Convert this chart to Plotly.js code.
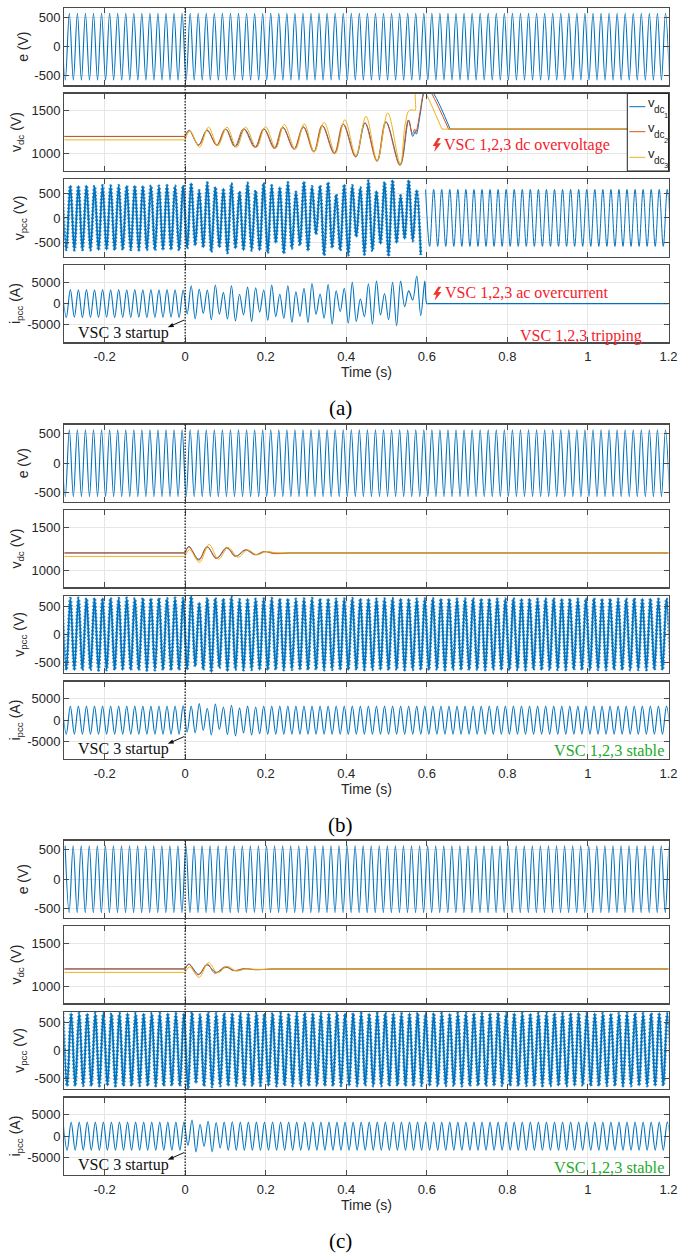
<!DOCTYPE html>
<html><head><meta charset="utf-8">
<script src="https://cdn.plot.ly/plotly-3.0.1.min.js"></script>
<style>html,body{margin:0;padding:0;background:#fff}#c{width:678px;height:1256px}</style>
</head><body><div id="c"></div>
<script>
// ---- values: half-cycle extremes (one value every 10 ms) ----
const eExtremes = [
570,-570,570,-570,570,-570,570,-570,570,-570,570,-570,570,-570,570,-570,570,-570,570,-570,
570,-570,570,-570,570,-570,570,-570,570,-570,570,-570,570,-570,570,-570,570,-570,570,-570,
570,-570,570,-570,570,-570,570,-570,570,-570,570,-570,570,-570,570,-570,570,-570,570,-570,
570,-570,570,-570,570,-570,570,-570,570,-570,570,-570,570,-570,570,-570,570,-570,570,-570,
570,-570,570,-570,570,-570,570,-570,570,-570,570,-570,570,-570,570,-570,570,-570,570,-570,
570,-570,570,-570,570,-570,570,-570,570,-570,570,-570,570,-570,570,-570,570,-570,570,-570,
570,-570,570,-570,570,-570,570,-570,570,-570,570,-570,570,-570,570,-570,570,-570,570,-570,
570,-570,570,-570,570,-570,570,-570,570,-570,570,-570];

const vpccAUnstable = [
645,-640,650,-645,645,-640,650,-645,640,-645,650,-640,645,-645,650,-640,
645,-640,650,-645,645,-640,650,-645,640,-645,650,-640,645,-645,650,
-610,700,-550,550,-590,707,-680,620,-590,590,-700,690,-610,530,-650,700,-650,550,-650,700,
-700,650,-500,620,-715,710,-610,520,-550,730,-660,630,-330,650,-750,715,-600,470,-650,670,
-750,650,-380,610,-730,750,-660,540,-520,720,-770,760,-500,450,-420,760,-460,560,-740];
const vpccATripped = [
570,-570,570,-570,570,-570,570,-570,570,-570,570,-570,570,-570,570,-570,570,-570,570,-570,
570,-570,570,-570,570,-570,570,-570,570,-570,570,-570,570,-570,570,-570,570,-570,570,-570,
570,-570,570,-570,570,-570,570,-570,570,-570,570,-570,570,-570,570,-570,570,-570,570,-570,570,-570];
const ipccAUnstable = [
3250,-3250,3300,-3200,3250,-3300,3300,-3250,3250,-3250,3300,-3200,3250,-3300,3300,-3250,
3250,-3250,3300,-3200,3250,-3300,3300,-3250,3250,-3250,3300,-3200,3250,-3300,3200,
-2400,4200,-3600,3400,-2300,3200,-3800,4400,-2500,2650,-3600,4200,-4050,2200,-2650,3900,-4200,3750,-2000,3200,
-3900,4350,-3050,2200,-3450,4200,-4400,2800,-3000,3600,-4400,4750,-2500,2260,-3430,4500,-4800,3000,-1900,3600,
-4600,5000,-4200,1100,-3050,4700,-4800,5300,-2650,2400,-3800,5000,-5200,5300,-700,3000,860,6500,-2800,5300];
const ipccATrippedT = [0.6,0.605,1.2];
const ipccATripped = [0,0,0];

const vpccB = [
640,-625,635,-630,640,-625,635,-625,640,-630,635,-625,640,-625,635,-630,
640,-625,635,-625,640,-630,635,-625,640,-625,635,-630,640,-625,635,
-620,690,-560,560,-620,640,-665,640,-590,630,-650,665,-620,615,
-625,630,-620,625,-625,630,-625,635,-620,630,-625,630,-620,625,-625,630,-625,635,-620,630,
-625,630,-620,625,-625,630,-625,635,-620,630,-625,630,-620,625,-625,630,-625,635,-620,630,
-625,630,-620,625,-625,630,-625,635,-620,630,-625,630,-620,625,-625,630,-625,635,-620,630,
-625,630,-620,625,-625,630,-625,635,-620,630,-625,630,-620,625,-625,630,-625,635,-620,630,
-625,630,-620,625,-625,630,-625,635,-620,630,-625,630,-620,625,-625,630,-625,635,-620,630,
-625,630,-620,625,-625,630,-625];
const ipccB = [
3300,-3300,3300,-3300,3300,-3300,3300,-3300,3300,-3300,3300,-3300,3300,-3300,3300,-3300,
3300,-3300,3300,-3300,3300,-3300,3300,-3300,3300,-3300,3300,-3300,3300,-3300,3350,
-2800,3300,-3000,3900,-2400,2800,-3500,3800,-2200,3100,-3400,3500,-3700,2900,-3000,3300,-3500,3100,-3200,3300,
-3300,3300,-3300,3300,-3300,3300,-3300,3300,-3300,3300,-3300,3300,-3300,3300,-3300,3300,-3300,3300,-3300,3300,
-3300,3300,-3300,3300,-3300,3300,-3300,3300,-3300,3300,-3300,3300,-3300,3300,-3300,3300,-3300,3300,-3300,3300,
-3300,3300,-3300,3300,-3300,3300,-3300,3300,-3300,3300,-3300,3300,-3300,3300,-3300,3300,-3300,3300,-3300,3300,
-3300,3300,-3300,3300,-3300,3300,-3300,3300,-3300,3300,-3300,3300,-3300,3300,-3300,3300,-3300,3300,-3300,3300,
-3300,3300,-3300,3300,-3300,3300,-3300,3300,-3300,3300,-3300,3300,-3300,3300,-3300,3300,-3300,3300,-3300,3300,-3300];

const vpccC = [
655,-625,655,-625,655,-620,650,-625,655,-625,655,-620,650,-625,655,-625,
655,-625,655,-620,650,-625,655,-625,655,-625,655,-620,650,-625,655,
-680,670,-575,630,-630,670,-640,650,-625,655,
-625,655,-620,650,-625,655,-625,660,-620,650,-625,655,-625,655,-620,650,-625,655,-625,660,
-625,655,-620,650,-625,655,-625,660,-620,650,-625,655,-625,655,-620,650,-625,655,-625,660,
-625,655,-620,650,-625,655,-625,660,-620,650,-625,655,-625,655,-620,650,-625,655,-625,660,
-625,655,-620,650,-625,655,-625,660,-620,650,-625,655,-625,655,-620,650,-625,655,-625,660,
-625,655,-620,650,-625,655,-625,660,-620,650,-625,655,-625,655,-620,650,-625,655,-625,660,
-625,655,-620,650,-625,655,-625,660,-620,650,-625];
const ipccC = [
3300,-3300,3300,-3300,3300,-3300,3300,-3300,3300,-3300,3300,-3300,3300,-3300,3300,-3300,
3300,-3300,3300,-3300,3300,-3300,3300,-3300,3300,-3300,3300,-3300,3300,-3300,3300,
-2200,3800,-3700,2800,-2400,3500,-3700,3200,-2800,3300,-3300,3400,-3300,3300,
-3300,3300,-3300,3300,-3300,3300,-3300,3300,-3300,3300,-3300,3300,-3300,3300,-3300,3300,-3300,3300,-3300,3300,
-3300,3300,-3300,3300,-3300,3300,-3300,3300,-3300,3300,-3300,3300,-3300,3300,-3300,3300,-3300,3300,-3300,3300,
-3300,3300,-3300,3300,-3300,3300,-3300,3300,-3300,3300,-3300,3300,-3300,3300,-3300,3300,-3300,3300,-3300,3300,
-3300,3300,-3300,3300,-3300,3300,-3300,3300,-3300,3300,-3300,3300,-3300,3300,-3300,3300,-3300,3300,-3300,3300,
-3300,3300,-3300,3300,-3300,3300,-3300,3300,-3300,3300,-3300,3300,-3300,3300,-3300,3300,-3300,3300,-3300,3300,
-3300,3300,-3300,3300,-3300,3300,-3300];

// dc-link voltages: flat stretches before the startup and after settling
const vdcBeforeT = [-0.3,0];
const vdc1Before = [1200,1200], vdc2Before = [1200,1200], vdc3Before = [1160,1160];
const vdcAfterA1T = [0.658,1.2], vdcAfterA2T = [0.654,1.2], vdcAfterA3T = [0.6376,1.2];
const vdcAfterA = [1285,1285];
const vdcAfterBT = [0.26,1.2], vdcAfterCT = [0.22,1.2], vdcAfter = [1200,1200];

// dc-link voltages: turning points of the transient (time, value)
const vdcA1T = [0,0.01,0.033,0.054,0.079,0.101,0.125,0.147,0.175,0.196,0.223,0.243,0.271,0.294,0.3205,0.3412,0.371,0.393,0.424,0.447,0.477,0.499,0.534,0.555,0.565,0.571,0.574,0.584,0.592,0.6,0.617,0.658];
const vdcA1 = [1200,1273,1100,1270,1100,1285,1082,1285,1074,1285,1062,1305,1055,1309,1023,1324,1004,1340,965,1355,914,1367,867,1387,1200,1258,1226,1473,1700,1790,1700,1285];
const vdcA2T = [0,0.0105,0.034,0.055,0.078,0.1,0.123,0.145,0.173,0.195,0.221,0.242,0.27,0.293,0.319,0.34,0.37,0.392,0.423,0.446,0.476,0.498,0.533,0.554,0.564,0.57,0.573,0.583,0.591,0.598,0.612,0.654];
const vdcA2 = [1200,1270,1098,1275,1098,1290,1080,1290,1072,1290,1060,1310,1052,1314,1020,1330,1002,1345,962,1360,912,1372,865,1392,1235,1285,1255,1480,1700,1790,1700,1285];
const vdcA3T = [0,0.012,0.0356,0.058,0.081,0.104,0.1275,0.15,0.177,0.1995,0.225,0.246,0.2735,0.2957,0.3205,0.345,0.373,0.3965,0.424,0.449,0.477,0.503,0.534,0.546,0.5567,0.57,0.5716,0.5718,0.58,0.598,0.6376];
const vdcA3 = [1160,1265,1074,1309,1090,1309,1070,1309,1070,1316,1062,1340,1050,1348,1023,1363,1004,1394,977,1434,918,1473,879,1336,1504,1504,1504,1750,1850,1700,1285];

const vdcB1T = [0,0.009,0.034,0.0546,0.0787,0.1035,0.1267,0.1516,0.1756,0.1988,0.2236,0.26];
const vdcB1 = [1200,1275,1126,1268,1138,1256,1165,1236,1181,1216,1197,1200];
const vdcB2T = [0,0.0095,0.034,0.0546,0.077,0.1035,0.1245,0.1495,0.1735,0.195,0.22,0.26];
const vdcB2 = [1200,1272,1115,1275,1135,1264,1158,1236,1177,1216,1193,1200];
const vdcB3T = [0,0.011,0.0356,0.0596,0.0828,0.1068,0.131,0.155,0.178,0.201,0.2236,0.26];
const vdcB3 = [1160,1240,1090,1299,1126,1264,1150,1236,1177,1216,1203,1200];

const vdcC1T = [0,0.009,0.034,0.054,0.077,0.1015,0.124,0.149,0.174,0.22];
const vdcC1 = [1200,1258,1137,1246,1160,1219,1180,1203,1192,1200];
const vdcC2T = [0,0.0095,0.032,0.055,0.074,0.1,0.12,0.145,0.17,0.22];
const vdcC2 = [1200,1255,1130,1258,1150,1227,1180,1203,1192,1200];
const vdcC3T = [0,0.011,0.0346,0.058,0.0805,0.1048,0.1267,0.1516,0.18,0.22];
const vdcC3 = [1160,1225,1102,1273,1156,1230,1176,1200,1195,1200];

// tick labels
const xTickVals = [-0.2,0,0.2,0.4,0.6,0.8,1,1.2];
const xTickText = ['-0.2','0','0.2','0.4','0.6','0.8','1','1.2'];
const eTicks = [-500,0,500], eTickText = ['-500','0','500'];
const vdcTicks = [1000,1500], vdcTickText = ['1000','1500'];
const ipccTicks = [-5000,0,5000], ipccTickText = ['-5000','0','5000'];
const legendNames = ['1','2','3'];
const captions = ['(a)','(b)','(c)'];

// ---- style ----
const W=678,H=1256, L=64.3, R=668.5, PH=77.3;
const blue='#0072BD', red='#D95319', yellow='#EDB120', dark='#4a4a4a', tickFont='#262626';
const serif='"Liberation Serif", serif', sans='"Liberation Sans", Arial, sans-serif';
const halfCycleTimes=(start,n)=>Array.from({length:n},(_,i)=>+(start+i*0.01).toFixed(4));
const px=x=>x/W, py=y=>1-y/H;

const traces=[], layout={width:W,height:H,margin:{l:0,r:0,t:0,b:0},paper_bgcolor:'#fff',plot_bgcolor:'#fff',
  showlegend:false,shapes:[],annotations:[],font:{family:sans,size:13,color:tickFont}};

function addLine(axis,x,y,color,width){
  traces.push({type:'scatter',mode:'lines',x,y,xaxis:'x'+axis,yaxis:'y'+axis,hoverinfo:'skip',
    line:{color,width,shape:'spline',smoothing:1}});
}
function addFlat(axis,x,y,color){
  traces.push({type:'scatter',mode:'lines',x,y,xaxis:'x'+axis,yaxis:'y'+axis,hoverinfo:'skip',
    line:{color,width:1,shape:'linear'}});
}
// switching ripple too dense to read: a speckled band along the line
function addRipple(axis,x,y){
  traces.push({type:'scatter',mode:'lines',x,y,xaxis:'x'+axis,yaxis:'y'+axis,hoverinfo:'skip',opacity:0.85,
    line:{color:blue,width:3,dash:'1.5px,2px',shape:'spline',smoothing:1}});
}
function addAxes(axis,top,range,ticks,tickText,title,standoff,showX){
  const xa={domain:[px(L),px(R)],range:[-0.3,1.2],anchor:'y'+axis,tickmode:'array',tickvals:xTickVals,
    ticktext:xTickText,showticklabels:showX,ticks:'inside',ticklen:5,tickwidth:1,tickcolor:dark,
    showline:true,linecolor:dark,linewidth:1.3,mirror:'allticks',showgrid:true,gridcolor:'#e6e6e6',gridwidth:1,zeroline:false,
    tickfont:{family:sans,size:13,color:tickFont},ticklabelstandoff:2};
  if(showX) xa.title={text:'Time (s)',font:{family:sans,size:14,color:tickFont},standoff:4};
  layout['xaxis'+axis]=xa;
  layout['yaxis'+axis]={domain:[py(top+PH),py(top)],range,anchor:'x'+axis,tickmode:'array',tickvals:ticks,ticktext:tickText,
    ticks:'inside',ticklen:5,tickwidth:1,tickcolor:dark,showline:true,linecolor:dark,linewidth:1.3,mirror:'allticks',
    showgrid:true,gridcolor:'#e6e6e6',gridwidth:1,zeroline:false,tickfont:{family:sans,size:13,color:tickFont},
    title:{text:title,font:{family:sans,size:14,color:tickFont},standoff}};
}
function text(x,y,t,color,size,anchor,family){
  layout.annotations.push({xref:'paper',yref:'paper',x:px(x),y:py(y),text:t,showarrow:false,xanchor:anchor||'left',yanchor:'middle',
    font:{family:family||serif,size,color},borderpad:0});
}
function polygon(points,color){
  layout.shapes.push({type:'path',xref:'paper',yref:'paper',layer:'above',fillcolor:color,line:{width:0},
    path:points.map((q,i)=>(i?'L':'M')+px(q[0])+','+py(q[1])).join(' ')+' Z'});
}
function bolt(x,y){
  polygon([[5,0],[0,8],[3,8],[1.5,14],[8.3,5.2],[4.6,5.2],[8,0]].map(q=>[x+q[0],y+q[1]]),'#F0352B');
}

// ---- the three groups of four panels ----
const groups=[
 {top:8,   base:1, eStart:-0.3075, vR:[-775,775], t0:-0.305,
  vdc:[[vdcA1T,vdcA1,vdc1Before,vdcAfterA1T,vdcAfterA],[vdcA2T,vdcA2,vdc2Before,vdcAfterA2T,vdcAfterA],[vdcA3T,vdcA3,vdc3Before,vdcAfterA3T,vdcAfterA]]},
 {top:424.5,base:5, eStart:-0.3075, vR:[-680,680], t0:-0.305, v:vpccB, i:ipccB,
  vdc:[[vdcB1T,vdcB1,vdc1Before,vdcAfterBT,vdcAfter],[vdcB2T,vdcB2,vdc2Before,vdcAfterBT,vdcAfter],[vdcB3T,vdcB3,vdc3Before,vdcAfterBT,vdcAfter]]},
 {top:840.5,base:9, eStart:-0.298, vR:[-680,680], t0:-0.303, v:vpccC, i:ipccC,
  vdc:[[vdcC1T,vdcC1,vdc1Before,vdcAfterCT,vdcAfter],[vdcC2T,vdcC2,vdc2Before,vdcAfterCT,vdcAfter],[vdcC3T,vdcC3,vdc3Before,vdcAfterCT,vdcAfter]]}
];
groups.forEach((g,k)=>{
  const a=g.base, T=g.top;
  addAxes(a,  T,       [-660,660],eTicks,eTickText,'e (V)',2,false);
  addAxes(a+1,T+85.5,  [800,1700],vdcTicks,vdcTickText,'v<sub>dc</sub> (V)',6,false);
  addAxes(a+2,T+171.3, g.vR,eTicks,eTickText,'v<sub>pcc</sub> (V)',6,false);
  addAxes(a+3,T+257,   [-9100,9100],ipccTicks,ipccTickText,'i<sub>pcc</sub> (A)',3,true);
  addLine(a,halfCycleTimes(g.eStart,eExtremes.length),eExtremes,blue,1.1);
  g.vdc.forEach((d,j)=>{
    const c=[blue,red,yellow][j];
    addFlat(a+1,vdcBeforeT,d[2],c);
    addLine(a+1,d[0],d[1],c,1);
    addFlat(a+1,d[3],d[4],c);
  });
  if(k===0){
    const t=halfCycleTimes(g.t0,vpccAUnstable.length);
    addLine(a+2,t,vpccAUnstable,blue,1.7);
    addRipple(a+2,t,vpccAUnstable);
    addLine(a+2,halfCycleTimes(0.597,vpccATripped.length),vpccATripped,blue,1);
    addLine(a+3,halfCycleTimes(g.t0,ipccAUnstable.length).concat(ipccATrippedT),ipccAUnstable.concat(ipccATripped),blue,1.1);
  }else{
    const t=halfCycleTimes(g.t0,g.v.length);
    addLine(a+2,t,g.v,blue,1.7);
    addRipple(a+2,t,g.v);
    addLine(a+3,halfCycleTimes(g.t0,g.i.length),g.i,blue,1.1);
  }
  // t = 0 marker through all four panels
  layout.shapes.push({type:'line',xref:'x'+a,yref:'paper',x0:0,x1:0,y0:py(T),y1:py(T+334.3),layer:'above',
    line:{color:'#222',width:1.3,dash:'1.5px,1.5px'}});
  // startup note and arrow
  text(77,T+324.7,'VSC 3 startup','#111',16);
  layout.shapes.push({type:'line',xref:'paper',yref:'paper',x0:px(184.3),x1:px(172.5),y0:py(T+312),y1:py(T+317.2),layer:'above',
    line:{color:'#111',width:1}});
  polygon([[167.7,T+319.3],[174.1,T+318.9],[172.3,T+314.9]],'#111');
  text(340,T+400.3,captions[k],'#000',21,'center');
});

// ---- overlays on panel (a) ----
text(442.7,145,'VSC 1,2,3 dc overvoltage','#F5222D',16);
text(444,292.7,'VSC 1,2,3 ac overcurrent','#F5222D',16);
text(519,335.7,'VSC 1,2,3 tripping','#F5222D',16);
bolt(432.7,138); bolt(433.2,286.7);
text(664.5,751,'VSC 1,2,3 stable','#22AA2A',16.3,'right');
text(665,1167,'VSC 1,2,3 stable','#22AA2A',16.3,'right');

// ---- legend box of panel (a) ----
layout.shapes.push({type:'rect',xref:'paper',yref:'paper',x0:px(627.3),x1:px(668.5),y0:py(171),y1:py(93.5),layer:'above',
  fillcolor:'#fff',line:{color:'#222',width:1}});
[106.7,131.7,157.3].forEach((y,j)=>{
  layout.shapes.push({type:'line',xref:'paper',yref:'paper',x0:px(629.3),x1:px(645.3),y0:py(y),y1:py(y),layer:'above',
    line:{color:[blue,red,yellow][j],width:1}});
  text(646.5,y-4,'v',tickFont,13,'left',sans);
  text(653,y+3,'dc',tickFont,10,'left',sans);
  text(662.5,y+8.5,legendNames[j],tickFont,7.5,'left',sans);
});

Plotly.newPlot('c',traces,layout,{staticPlot:true,displayModeBar:false});
</script></body></html>
